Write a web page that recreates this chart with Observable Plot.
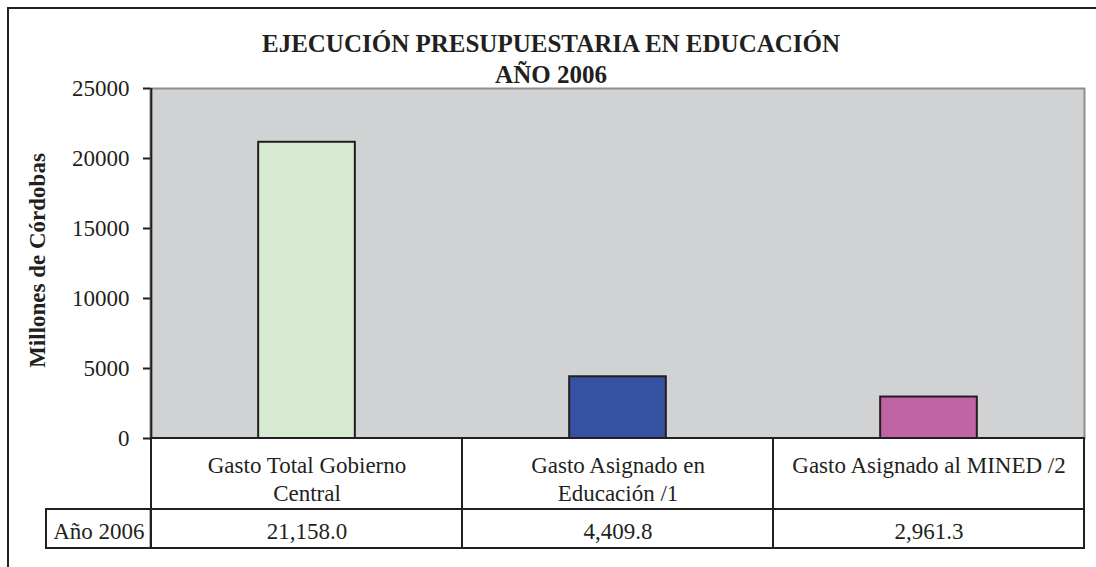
<!DOCTYPE html>
<html>
<head>
<meta charset="utf-8">
<script src="https://cdn.jsdelivr.net/npm/d3@7"></script>
<script src="https://cdn.jsdelivr.net/npm/@observablehq/plot@0.6"></script>
<style>
  html, body { margin: 0; padding: 0; background: #fff; }
  #wrap { position: relative; width: 1096px; height: 567px; overflow: hidden; background: #fff; }
  #border { position: absolute; left: 7px; top: 7px; width: 1200px; height: 700px;
            border-left: 2px solid #231f20; border-top: 2px solid #231f20; }
  #title { position: absolute; left: 0; top: 28px; width: 1102px; text-align: center;
           font-family: "Liberation Serif", "Times New Roman", serif; font-weight: bold;
           font-size: 25px; line-height: 31px; color: #231f20; }
  #chart { position: absolute; left: 0; top: 0; }
  #chart svg text { font-family: "Liberation Serif", "Times New Roman", serif; }
</style>
</head>
<body>
<div id="wrap">
  <div id="border"></div>
  <div id="chart"></div>
  <div id="title"></div>
</div>
<script>
// ---- data ----
const titleLines = ["EJECUCIÓN PRESUPUESTARIA EN EDUCACIÓN", "AÑO 2006"];
const categories = ["Gasto Total Gobierno Central", "Gasto Asignado en Educación /1", "Gasto Asignado al MINED /2"];
const categoryLabels = ["Gasto Total Gobierno\nCentral", "Gasto Asignado en\nEducación /1", "Gasto Asignado al MINED /2"];
const values = [21158.0, 4409.8, 2961.3];
const colors = ["#d6ead1", "#3650a2", "#c064a6"];
const rowHeader = "Año 2006";
const yLabel = "Millones de Córdobas";
const yTicks = [0, 5000, 10000, 15000, 20000, 25000];

// ---- layout ----
const W = 1096, H = 567, mL = 150, mR = 12, mT = 88, mB = 129;
const bw = (W - mL - mR) / categories.length;
const ink = "#231f20";
const font = '"Liberation Serif", "Times New Roman", serif';

document.getElementById("title").innerHTML = titleLines.map(t => `<div>${t}</div>`).join("");

const data = categories.map((c, i) => ({category: c, value: values[i], color: colors[i]}));
const fmt = d3.format(",.1f");

const chart = Plot.plot({
  width: W, height: H,
  marginLeft: mL, marginRight: mR, marginTop: mT, marginBottom: mB,
  style: {fontFamily: font, fontSize: "23px", color: ink, background: "transparent"},
  x: {domain: categories, padding: 0, axis: null},
  y: {domain: [0, 25000], ticks: yTicks, tickSize: 7, tickPadding: 14, tickFormat: d3.format("d"), label: null, axis: null},
  color: {type: "identity"},
  marks: [
    Plot.frame({fill: "#d1d2d4", stroke: "#8e8e8e", strokeWidth: 2}),
    Plot.barY(data, {x: "category", y: "value", fill: "color", stroke: ink, strokeWidth: 2,
                     insetLeft: (bw - 97) / 2, insetRight: (bw - 97) / 2}),
    // data table: category row
    Plot.barY(categories, {x: d => d, y1: () => 0, y2: () => 0, insetTop: 0, insetBottom: -71,
                           fill: "white", stroke: ink, strokeWidth: 2}),
    // data table: value row
    Plot.barY(categories, {x: d => d, y1: () => 0, y2: () => 0, insetTop: 71, insetBottom: -110,
                           fill: "white", stroke: ink, strokeWidth: 2}),
    // row header cell
    Plot.barY([rowHeader], {x: () => categories[0], y1: () => 0, y2: () => 0, insetTop: 71, insetBottom: -110,
                            insetLeft: -105, insetRight: bw, fill: "white", stroke: ink, strokeWidth: 2}),
    // y axis line
    Plot.ruleX([categories[0]], {x: d => d, y1: () => 0, y2: () => 25000, dx: -bw / 2, stroke: ink, strokeWidth: 2}),
    Plot.axisY({ticks: yTicks, tickSize: 7, tickPadding: 14, tickFormat: d3.format("d"), fontSize: 23, stroke: ink, strokeWidth: 2}),
    // category labels
    Plot.text(categories, {x: d => d, y: () => 0, text: (d, i) => categoryLabels[i], lineAnchor: "top",
                           lineHeight: 1.22, dy: 15, fontSize: 23}),
    // values
    Plot.text(values, {x: (d, i) => categories[i], y: () => 0, text: d => fmt(d), dy: 93, fontSize: 23}),
    Plot.text([rowHeader], {x: () => categories[0], y: () => 0, text: d => d, dx: -bw / 2 - 52.5, dy: 93, fontSize: 23}),
    // y label
    Plot.text([yLabel], {frameAnchor: "left", text: d => d, rotate: -90, dx: -113, dy: -3,
                         textAnchor: "middle", fontWeight: "bold", fontSize: 23})
  ]
});
document.getElementById("chart").appendChild(chart);
</script>
</body>
</html>
